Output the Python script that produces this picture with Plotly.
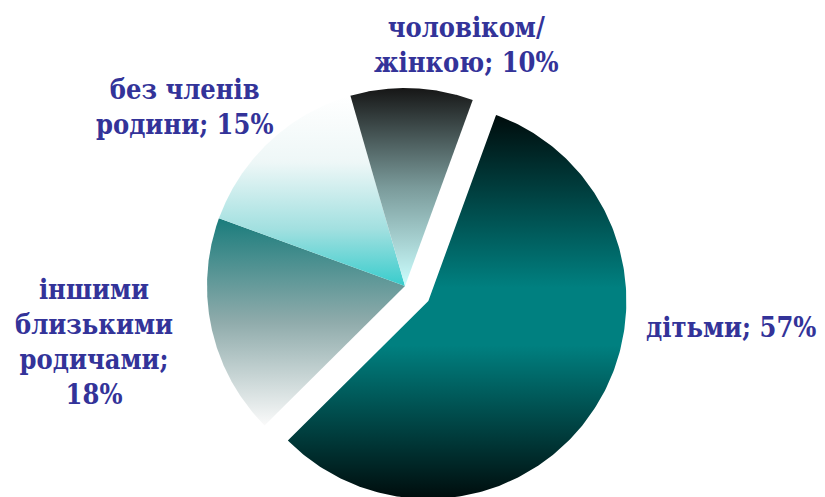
import numpy as np
import plotly.graph_objects as go

# Household composition shares (clockwise from the first slice)
categories = ["дітьми", "іншими близькими родичами", "без членів родини", "чоловіком/жінкою"]
label_lines = [["дітьми; {v}%"],
               ["іншими", "близькими", "родичами;", "{v}%"],
               ["без членів", "родини; {v}%"],
               ["чоловіком/", "жінкою; {v}%"]]
values = [57, 18, 15, 10]

# Vertical gradient stops (top -> bottom) for each slice, and explode factors
gradients = [
    [[0, "#000c0c"], [0.45, "#008080"], [0.6, "#008080"], [1, "#000c0c"]],
    [[0, "#1a7c7c"], [0.5, "#8fabab"], [1, "#fafafa"]],
    [[0, "#ffffff"], [0.35, "#eef7f7"], [0.7, "#a2e0e0"], [1, "#38cccc"]],
    [[0, "#161616"], [0.5, "#7a9a9a"], [1, "#ccffff"]],
]
pulls = [0.14, 0, 0, 0]
label_pos = [(731, 327), (94, 342), (185, 107), (466, 45)]

W, H = 825, 497
CX, CY, R = 405, H - 286, 198
START_DEG = 20.0  # first slice starts here, clockwise from 12 o'clock
TEXT_COLOR = "#333399"
FONT = "DejaVu Serif Condensed, DejaVu Serif, serif"

fig = go.Figure()

total = float(sum(values))
a0 = START_DEG
for val, grad, pull in zip(values, gradients, pulls):
    sweep = 360.0 * val / total
    a1 = a0 + sweep
    mid = np.radians((a0 + a1) / 2)
    ox = CX + pull * R * np.sin(mid)
    oy = CY + pull * R * np.cos(mid)
    th = np.radians(np.linspace(a0, a1, 240))
    xs = np.concatenate([[ox], ox + R * np.sin(th), [ox]])
    ys = np.concatenate([[oy], oy + R * np.cos(th), [oy]])
    fig.add_trace(go.Scatter(
        x=xs, y=ys, mode="lines", fill="toself",
        line=dict(width=0),
        fillgradient=dict(type="vertical", colorscale=grad,
                          start=float(ys.max()), stop=float(ys.min())),
        hoverinfo="skip", showlegend=False,
    ))
    a0 = a1

for lines, val, (px, py) in zip(label_lines, values, label_pos):
    text = "<br>".join("<b>" + s.format(v=val) + "</b>" for s in lines)
    fig.add_annotation(
        x=px, y=H - py, xref="x", yref="y", text=text, showarrow=False,
        align="center", xanchor="center", yanchor="middle",
        font=dict(family=FONT, size=27, color=TEXT_COLOR),
    )

fig.update_layout(
    width=W, height=H, margin=dict(l=0, r=0, t=0, b=0),
    paper_bgcolor="white", plot_bgcolor="white",
    xaxis=dict(range=[0, W], visible=False, fixedrange=True),
    yaxis=dict(range=[0, H], visible=False, fixedrange=True),
)

fig.write_html("out.html")
